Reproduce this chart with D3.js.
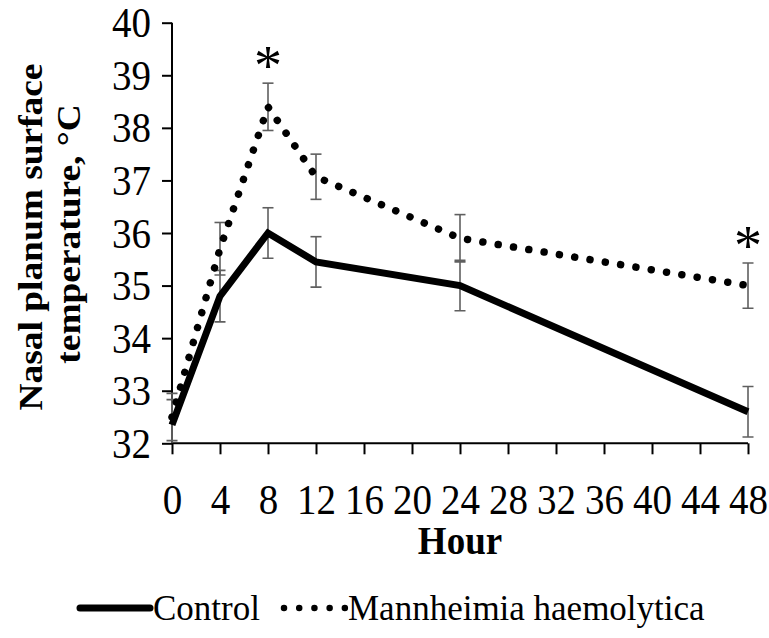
<!DOCTYPE html>
<html>
<head>
<meta charset="utf-8">
<script src="https://cdn.jsdelivr.net/npm/d3@7"></script>
<style>
  html, body { margin: 0; padding: 0; background: #fff; }
  svg { display: block; }
  text { font-family: "Liberation Serif", "Times New Roman", serif; fill: #000; }
</style>
</head>
<body>
<div id="chart"></div>
<script>
// Sampling times (hours after challenge)
const hours = [0, 4, 8, 12, 24, 48];

// Mean nasal planum surface temperature (°C) and error (±)
const controlMean = [32.35, 34.8, 36.0, 35.45, 35.0, 32.6];
const controlErr  = [0.48, 0.49, 0.48, 0.48, 0.48, 0.48];
const mhMean      = [32.5, 35.7, 38.4, 37.07, 35.9, 35.0];
const mhErr       = [0.45, 0.5, 0.45, 0.43, 0.45, 0.43];

// Time points flagged as significant
const signifHours = [8, 48];

// Tick values
const xTicks = [0, 4, 8, 12, 16, 20, 24, 28, 32, 36, 40, 44, 48];
const yTicks = [32, 33, 34, 35, 36, 37, 38, 39, 40];

const seriesNames = ["Control", "Mannheimia haemolytica"];

const W = 769, H = 638;
const svg = d3.select("#chart").append("svg")
  .attr("width", W).attr("height", H);

const x = d3.scaleLinear().domain([0, 48]).range([172, 748]);
const y = d3.scaleLinear().domain([32, 40]).range([443.3, 22.7]);

const tickStretch = 1.08;

// Clip for error bars to the plotting area
svg.append("clipPath").attr("id", "plotClip")
  .append("rect")
  .attr("x", x(0) - 20).attr("y", y(40) - 40)
  .attr("width", x(48) - x(0) + 40).attr("height", y(32) - y(40) + 40);

// Y axis
const yAxis = d3.axisLeft(y).tickValues(yTicks).tickSize(10).tickPadding(0)
  .tickFormat(d3.format("d"));
const gy = svg.append("g").attr("transform", `translate(${x(0)},0)`).call(yAxis);
gy.select(".domain").attr("stroke", "#000").attr("stroke-width", 2)
  .attr("d", `M0,${y(40)}V${y(32)}`);
gy.selectAll(".tick line").attr("stroke", "#000").attr("stroke-width", 2);
gy.selectAll(".tick text")
  .attr("x", null).attr("dy", null)
  .attr("text-anchor", "end")
  .attr("dominant-baseline", "central")
  .attr("transform", `translate(-21,0) scale(1,${tickStretch})`)
  .style("font-size", "39px");

// X axis
const xAxis = d3.axisBottom(x).tickValues(xTicks).tickSize(11).tickPadding(0)
  .tickFormat(d3.format("d"));
const gx = svg.append("g").attr("transform", `translate(0,${y(32)})`).call(xAxis);
gx.select(".domain").attr("stroke", "#000").attr("stroke-width", 2)
  .attr("d", `M${x(0)},0H${x(48)}`);
gx.selectAll(".tick line").attr("stroke", "#000").attr("stroke-width", 2);
gx.selectAll(".tick text")
  .attr("y", null).attr("dy", null)
  .attr("text-anchor", "middle")
  .attr("dominant-baseline", "central")
  .attr("transform", `translate(0,57) scale(1,${tickStretch})`)
  .style("font-size", "39px");

// Axis titles
svg.append("text")
  .attr("text-anchor", "middle")
  .attr("dominant-baseline", "central")
  .attr("transform", `translate(${(x(0) + x(48)) / 2},541) scale(1,1.08)`)
  .style("font-size", "37px").style("font-weight", "bold")
  .text("Hour");

const yTitle = svg.append("g").attr("transform", "translate(0,237)");
yTitle.append("text")
  .attr("text-anchor", "middle").attr("dominant-baseline", "central")
  .attr("transform", `translate(31,0) rotate(-90) scale(1.1,1)`)
  .style("font-size", "34px").style("font-weight", "bold")
  .text("Nasal planum surface");
yTitle.append("text")
  .attr("text-anchor", "middle").attr("dominant-baseline", "central")
  .attr("transform", `translate(69,-3) rotate(-90) scale(1.1,1)`)
  .style("font-size", "34px").style("font-weight", "bold")
  .text("temperature, °C");

// Series data
const controlData = hours.map((h, i) => ({ h, m: controlMean[i], e: controlErr[i] }));
const mhData = hours.map((h, i) => ({ h, m: mhMean[i], e: mhErr[i] }));

const line = d3.line().x(d => x(d.h)).y(d => y(d.m));

// Error bars
function drawErrors(data) {
  const g = svg.append("g").attr("clip-path", "url(#plotClip)")
    .attr("stroke", "#5f5f5f").attr("stroke-width", 1.6).attr("fill", "none");
  data.forEach(d => {
    const lo = Math.max(d.m - d.e, 32);
    const hi = d.m + d.e;
    g.append("line").attr("x1", x(d.h)).attr("x2", x(d.h))
      .attr("y1", y(hi)).attr("y2", y(lo));
    g.append("line").attr("x1", x(d.h) - 5.5).attr("x2", x(d.h) + 5.5)
      .attr("y1", y(hi)).attr("y2", y(hi));
    if (d.m - d.e >= 32) {
      g.append("line").attr("x1", x(d.h) - 5.5).attr("x2", x(d.h) + 5.5)
        .attr("y1", y(lo)).attr("y2", y(lo));
    }
  });
}
drawErrors(mhData);
drawErrors(controlData);

// Mannheimia haemolytica: round-dot line
svg.append("path").datum(mhData)
  .attr("d", line)
  .attr("fill", "none").attr("stroke", "#000")
  .attr("stroke-width", 7.5)
  .attr("stroke-linecap", "round")
  .attr("stroke-dasharray", "0.01 15.5");

// Control: solid heavy line
svg.append("path").datum(controlData)
  .attr("d", line)
  .attr("fill", "none").attr("stroke", "#000")
  .attr("stroke-width", 7)
  .attr("stroke-linejoin", "miter");

// Significance markers
signifHours.forEach(h => {
  const i = hours.indexOf(h);
  const top = mhMean[i] + mhErr[i];
  svg.append("text")
    .attr("x", x(h)).attr("y", y(top) + 2)
    .attr("text-anchor", "middle")
    .style("font-size", "56px")
    .text("*");
});

// Legend
const lg = svg.append("g").attr("transform", "translate(0,608)");
lg.append("line").attr("x1", 80).attr("x2", 150).attr("y1", 0).attr("y2", 0)
  .attr("stroke", "#000").attr("stroke-width", 7).attr("stroke-linecap", "round");
lg.append("text")
  .attr("x", 0).attr("dominant-baseline", "central")
  .attr("transform", `translate(153,0) scale(1,1.05)`)
  .style("font-size", "35px").text(seriesNames[0]);
lg.append("line").attr("x1", 284).attr("x2", 345).attr("y1", 0).attr("y2", 0)
  .attr("stroke", "#000").attr("stroke-width", 6.5).attr("stroke-linecap", "round")
  .attr("stroke-dasharray", "0.01 15.2");
lg.append("text")
  .attr("x", 0).attr("dominant-baseline", "central")
  .attr("transform", `translate(348,0) scale(1,1.05)`)
  .style("font-size", "35px").text(seriesNames[1]);
</script>
</body>
</html>
